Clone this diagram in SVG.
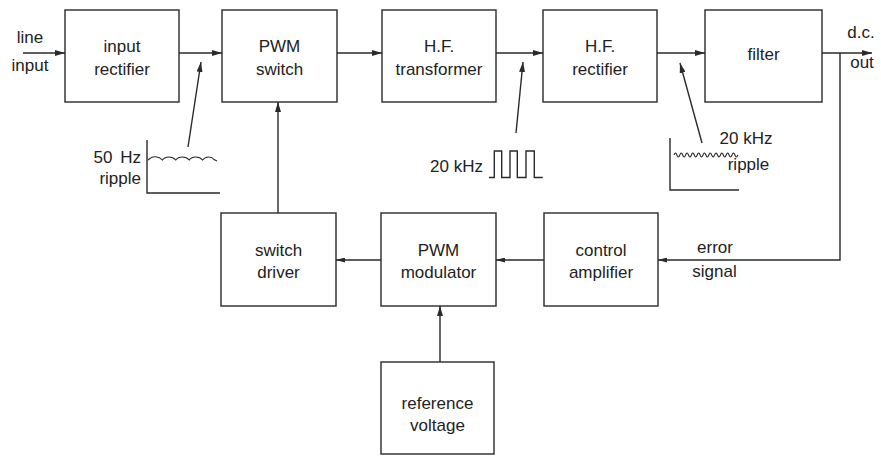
<svg xmlns="http://www.w3.org/2000/svg" width="881" height="456" viewBox="0 0 881 456">
<defs>
<marker id="ah" viewBox="0 0 10 6" refX="10" refY="3" markerWidth="10" markerHeight="6" markerUnits="userSpaceOnUse" orient="auto"><path d="M0,0 L10,3 L0,6 z" fill="#2a2a2a"/></marker>
<marker id="ahs" viewBox="0 0 9 5" refX="9" refY="2.5" markerWidth="9" markerHeight="5" markerUnits="userSpaceOnUse" orient="auto"><path d="M0,0 L9,2.5 L0,5 z" fill="#2a2a2a"/></marker>
</defs>
<style>
.box{fill:#fff;stroke:#2a2a2a;stroke-width:1.4}
.ln{fill:none;stroke:#2a2a2a;stroke-width:1.4}
.t{font-family:"Liberation Sans",Arial,sans-serif;font-size:17px;fill:#222;text-anchor:middle}
.e{text-anchor:end}
</style>
<rect width="881" height="456" fill="#fff"/>
<g id="connectors">
<path class="ln" d="M23,53 L65,53" marker-end="url(#ah)"/>
<path class="ln" d="M179,53 L222,53" marker-end="url(#ah)"/>
<path class="ln" d="M337,53 L382,53" marker-end="url(#ah)"/>
<path class="ln" d="M496,53 L543,53" marker-end="url(#ah)"/>
<path class="ln" d="M657,53 L705,53" marker-end="url(#ah)"/>
<path class="ln" d="M822,53 L872,53" marker-end="url(#ah)"/>
<path class="ln" d="M840,53 L840,260 L658,260" marker-end="url(#ahs)"/>
<path class="ln" d="M544,260 L496,260" marker-end="url(#ahs)"/>
<path class="ln" d="M381,260 L336,260" marker-end="url(#ahs)"/>
<path class="ln" d="M278,213 L278,102" marker-end="url(#ah)"/>
<path class="ln" d="M440,362 L440,306" marker-end="url(#ah)"/>
<path class="ln" d="M188,147 L201,62" marker-end="url(#ah)"/>
<path class="ln" d="M516,133 L523,62" marker-end="url(#ah)"/>
<path class="ln" d="M702,143 L680,63" marker-end="url(#ah)"/>
</g>
<g id="n1"><rect class="box" x="65" y="10" width="114" height="92"/><text class="t" x="122" y="52">input</text><text class="t" x="122" y="75">rectifier</text></g>
<g id="n2"><rect class="box" x="222" y="10" width="115" height="92"/><text class="t" x="279.5" y="52">PWM</text><text class="t" x="279.5" y="75">switch</text></g>
<g id="n3"><rect class="box" x="382" y="10" width="114" height="92"/><text class="t" x="439" y="52">H.F.</text><text class="t" x="439" y="75">transformer</text></g>
<g id="n4"><rect class="box" x="543" y="10" width="114" height="92"/><text class="t" x="600" y="52">H.F.</text><text class="t" x="600" y="75">rectifier</text></g>
<g id="n5"><rect class="box" x="705" y="10" width="117" height="92"/><text class="t" x="763.5" y="60">filter</text></g>
<g id="n6"><rect class="box" x="221" y="213" width="115" height="93"/><text class="t" x="278.5" y="256">switch</text><text class="t" x="278.5" y="278">driver</text></g>
<g id="n7"><rect class="box" x="381" y="213" width="115" height="93"/><text class="t" x="438.5" y="256">PWM</text><text class="t" x="438.5" y="278">modulator</text></g>
<g id="n8"><rect class="box" x="544" y="213" width="114" height="93"/><text class="t" x="601" y="256">control</text><text class="t" x="601" y="278">amplifier</text></g>
<g id="n9"><rect class="box" x="381" y="362" width="113" height="92"/><text class="t" x="437.5" y="409">reference</text><text class="t" x="437.5" y="431">voltage</text></g>
<g id="labels">
<text class="t" x="30" y="43">line</text>
<text class="t" x="30" y="71">input</text>
<text class="t" x="861" y="38">d.c.</text>
<text class="t" x="862" y="68">out</text>
<text class="t" x="715" y="253">error</text>
<text class="t" x="714.5" y="277">signal</text>
<text class="t e" x="141" y="163" word-spacing="3">50 Hz</text>
<text class="t e" x="141" y="184">ripple</text>
<text class="t e" x="483" y="172">20 kHz</text>
<text class="t" x="746" y="144">20 kHz</text>
<text class="t" x="748.5" y="170">ripple</text>
</g>
<g id="waveforms">
<path class="ln" d="M147,140 L147,193 L220,193"/>
<path class="ln" style="stroke-width:1.1" d="M148,160 L150,158.5 C152,156 159,156 162.4,160 C165.4,156 172.4,156 175.8,160 C178.8,156 185.8,156 189.2,160 C192.2,156 199.2,156 202.6,160 C205.6,156 211.6,156 214,159.5 L217,161"/>
<path class="ln" d="M489,177.5 L494.3,177.5 L494.3,151 L501.7,151 L501.7,177.5 L510,177.5 L510,151 L517.3,151 L517.3,177.5 L526,177.5 L526,151 L534.3,151 L534.3,177.5 L542.7,177.5"/>
<path class="ln" d="M670,138 L670,190 L739,190"/>
<path class="ln" style="stroke-width:1.1" d="M674,155 q1.45,-4 2.9,0 t2.9,0 t2.9,0 t2.9,0 t2.9,0 t2.9,0 t2.9,0 t2.9,0 t2.9,0 t2.9,0 t2.9,0 t2.9,0 t2.9,0 t2.9,0 t2.9,0 t2.9,0 t2.9,0 t2.9,0 t2.9,0 t2.9,0 t2.9,0 t2.9,0"/>
</g>
</svg>
